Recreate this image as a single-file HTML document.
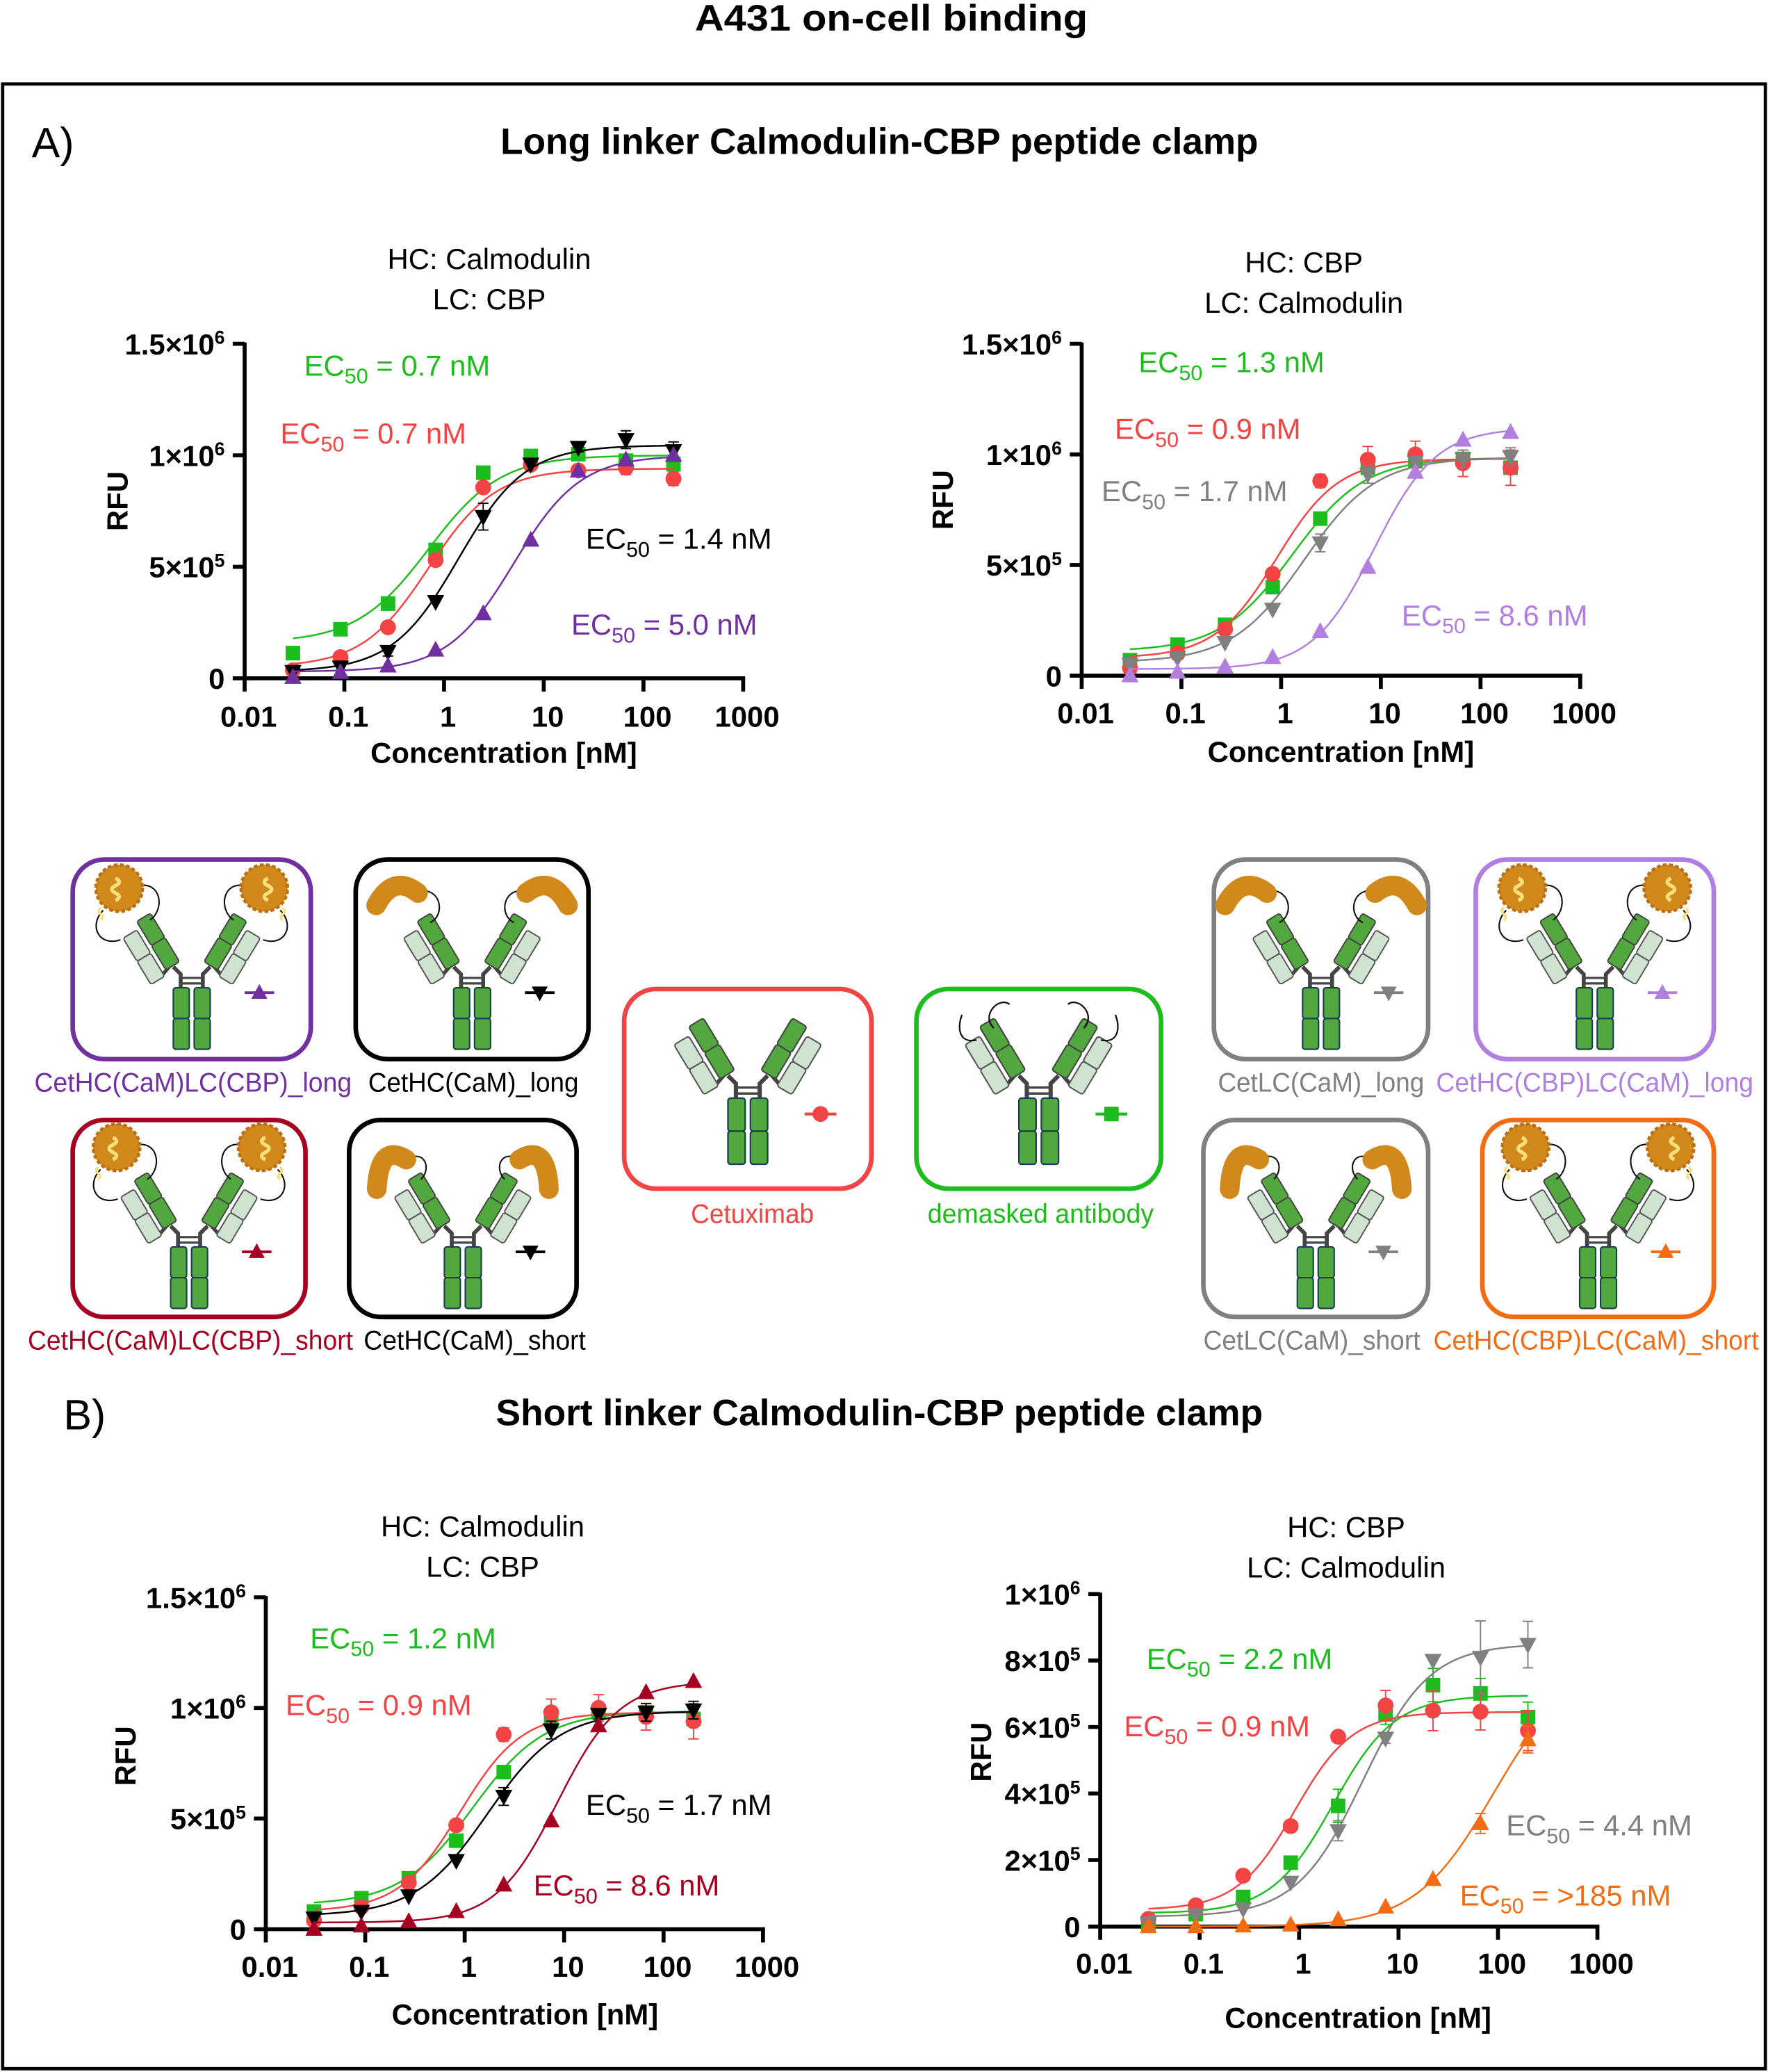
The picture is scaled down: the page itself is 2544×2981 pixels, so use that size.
<!DOCTYPE html>
<html><head><meta charset="utf-8"><title>A431 on-cell binding</title>
<style>html,body{margin:0;padding:0;background:#fff;overflow:hidden}svg{display:block}text{font-family:"Liberation Sans",Arial,sans-serif}</style>
</head><body>
<svg id="fig" xmlns="http://www.w3.org/2000/svg" width="2544" height="2981" viewBox="0 0 1337 1567" preserveAspectRatio="none">
<rect x="0" y="0" width="1337" height="1567" fill="#fff"/>
<text x="674" y="23" text-anchor="middle" font-size="28" font-weight="bold" textLength="297" lengthAdjust="spacingAndGlyphs">A431 on-cell binding</text>
<rect x="2" y="63.5" width="1333" height="1501" fill="none" stroke="#000" stroke-width="2.5"/>
<text x="24" y="119" font-size="32">A)</text>
<text x="665" y="116.5" text-anchor="middle" font-size="28" font-weight="bold" textLength="573" lengthAdjust="spacingAndGlyphs">Long linker Calmodulin-CBP peptide clamp</text>
<text x="48" y="1081" font-size="32">B)</text>
<text x="665" y="1078" text-anchor="middle" font-size="28" font-weight="bold" textLength="580" lengthAdjust="spacingAndGlyphs">Short linker Calmodulin-CBP peptide clamp</text>
</svg>
<script>
// ---------- data ----------
const conc = [0.0305, 0.0914, 0.274, 0.823, 2.47, 7.41, 22.2, 66.7, 200];
const xTickVals = [0.01, 0.1, 1, 10, 100, 1000];
const xTickLabels = ['0.01', '0.1', '1', '10', '100', '1000'];

// top-left (x1e6); series order: green, red, black, purple
const tlGreen = [0.113, 0.22, 0.335, 0.576, 0.922, 0.997, 1.005, 0.976, 0.96];
const tlRed = [0.036, 0.095, 0.229, 0.53, 0.856, 0.958, 0.932, 0.944, 0.895];
const tlBlack = [0.03, 0.05, 0.12, 0.344, 0.725, 0.96, 1.035, 1.07, 1.02];
const tlPurple = [0.005, 0.027, 0.056, 0.127, 0.29, 0.62, 0.93, 0.98, 1.0];
const tlBlackErr = [0, 0, 0.02, 0, 0.06, 0, 0.02, 0.04, 0.04];
const tlRedErr = [0, 0, 0, 0, 0, 0, 0.02, 0.03, 0.03];
const tlBottom = [0.16, 0.05, 0.03, 0.03];
const tlTop = [1.0, 0.94, 1.045, 1.0];
const tlEC50 = [0.7, 0.7, 1.4, 5.0];
const tlHill = [1.2, 1.3, 1.3, 1.3];
const tlYTicks = [0, 0.5, 1, 1.5];
const tlYLabels = ['0', '5×10^5', '1×10^6', '1.5×10^6'];

// top-right (x1e6); order: green, red, gray, lilac
const trGreen = [0.07, 0.14, 0.23, 0.40, 0.71, 0.94, 0.97, 0.98, 0.94];
const trRed = [0.035, 0.10, 0.21, 0.46, 0.88, 0.976, 1.0, 0.96, 0.94];
const trGray = [0.05, 0.08, 0.15, 0.30, 0.60, 0.91, 0.965, 0.98, 0.99];
const trLilac = [0, 0.016, 0.04, 0.083, 0.20, 0.49, 0.92, 1.065, 1.10];
const trRedErr = [0, 0, 0, 0, 0.03, 0.06, 0.06, 0.06, 0.08];
const trGrayErr = [0, 0, 0, 0, 0.04, 0.04, 0.02, 0.04, 0.04];
const trBottom = [0.11, 0.08, 0.06, 0.03];
const trTop = [0.985, 0.98, 0.985, 1.12];
const trEC50 = [1.3, 0.9, 1.7, 8.6];
const trHill = [1.2, 1.4, 1.2, 1.4];

// bottom-left (x1e6); order: green, red, black, darkred
const blGreen = [0.08, 0.14, 0.23, 0.40, 0.71, 0.95, 0.98, 0.98, 0.95];
const blRed = [0.04, 0.10, 0.21, 0.47, 0.88, 0.98, 1.0, 0.96, 0.94];
const blBlack = [0.05, 0.08, 0.15, 0.31, 0.60, 0.90, 0.97, 0.98, 0.99];
const blDarkRed = [0, 0.015, 0.035, 0.08, 0.20, 0.49, 0.92, 1.07, 1.12];
const blRedErr = [0, 0, 0, 0, 0.03, 0.06, 0.06, 0.06, 0.08];
const blBlackErr = [0, 0, 0, 0, 0.04, 0.04, 0.02, 0.04, 0.04];
const blBottom = [0.11, 0.08, 0.06, 0.03];
const blTop = [0.985, 0.98, 0.985, 1.12];
const blEC50 = [1.2, 0.9, 1.7, 8.6];
const blHill = [1.2, 1.4, 1.2, 1.4];

// bottom-right (x1e5); order: green, red, gray, orange
const brGreen = [0.1, 0.37, 0.89, 1.92, 3.63, 6.38, 7.26, 7.01, 6.3];
const brRed = [0.23, 0.64, 1.53, 3.02, 5.71, 6.65, 6.49, 6.46, 5.89];
const brGray = [0.1, 0.35, 0.53, 1.33, 2.88, 5.66, 8.0, 8.09, 8.48];
const brOrange = [0, 0, 0.02, 0.05, 0.21, 0.59, 1.42, 3.1, 5.62];
const brGreenErr = [0, 0, 0, 0, 0.5, 0.3, 0.5, 0.45, 0.45];
const brRedErr = [0, 0, 0, 0, 0, 0.45, 0.6, 0.55, 0.6];
const brGrayErr = [0, 0, 0, 0, 0.3, 0.15, 0.0, 1.1, 0.7];
const brOrangeErr = [0, 0, 0, 0, 0, 0, 0, 0.3, 0.4];
const brBottom = [0.4, 0.5, 0.3, 0];
const brTop = [6.95, 6.45, 8.5, 8];
const brEC50 = [2.2, 0.9, 4.4, 90];
const brHill = [1.4, 1.5, 1.3, 1.1];
const brYTicks = [0, 2, 4, 6, 8, 10];
const brYLabels = ['0', '2×10^5', '4×10^5', '6×10^5', '8×10^5', '1×10^6'];

// ---------- helpers ----------
const NS = 'http://www.w3.org/2000/svg';
const svg = document.getElementById('fig');
function el(tag, attrs, parent) {
  const e = document.createElementNS(NS, tag);
  for (const k in attrs) e.setAttribute(k, attrs[k]);
  (parent || svg).appendChild(e);
  return e;
}
const C = {green:'#1cbd1c', red:'#f24444', black:'#000', purple:'#7030a0', gray:'#808080', lilac:'#b07fe0', darkred:'#a50021', orange:'#f36c12'};

function marker(g, type, x, y, color, s) {
  s = s || 1;
  let m;
  if (type === 'square') m = el('rect', {x: x - 5.5*s, y: y - 5.5*s, width: 11*s, height: 11*s, fill: color}, g);
  else if (type === 'circle') m = el('circle', {cx: x, cy: y, r: 6*s, fill: color}, g);
  else if (type === 'up') m = el('polygon', {points: `${x},${y-7*s} ${x-6.5*s},${y+5*s} ${x+6.5*s},${y+5*s}`, fill: color}, g);
  else m = el('polygon', {points: `${x},${y+7*s} ${x-6.5*s},${y-5*s} ${x+6.5*s},${y-5*s}`, fill: color}, g);
  return m;
}
function richText(g, str, x, y, attrs) {
  const t = el('text', Object.assign({x: x, y: y}, attrs), g);
  const parts = str.split('^');
  t.appendChild(document.createTextNode(parts[0]));
  if (parts[1]) {
    const sp = el('tspan', {dy: -8, 'font-size': 14}, t);
    sp.textContent = parts[1];
  }
  return t;
}
function ecLabel(g, x, y, val, color) {
  const t = el('text', {x: x, y: y, 'font-size': 22, fill: color}, g);
  t.appendChild(document.createTextNode('EC'));
  const s = el('tspan', {dy: 6, 'font-size': 16}, t); s.textContent = '50';
  const r = el('tspan', {dy: -6}, t); r.textContent = ' = ' + val + ' nM';
  return t;
}
function fourPL(x, b, t, ec, h) { return b + (t - b) / (1 + Math.pow(ec / x, h)); }

function chart(cfg) {
  const g = el('g', {});
  
  
  const xs = v => cfg.x0 + (Math.log10(v) + 2) / 5 * (cfg.x1 - cfg.x0);
  const ys = v => cfg.y0 - v / cfg.ymax * (cfg.y0 - cfg.yt);
  const t1 = el('text', {x: cfg.tx, y: cfg.ty, 'text-anchor': 'middle', 'font-size': 22}, g);
  t1.textContent = cfg.title1;
  
  
  const t2 = el('text', {x: cfg.tx, y: cfg.ty + 30.5, 'text-anchor': 'middle', 'font-size': 22}, g);
  t2.textContent = cfg.title2;
  
  
  const ya = el('line', {x1: cfg.x0, y1: cfg.y0 + 1.5, x2: cfg.x0, y2: cfg.yt - 1, stroke: '#000', 'stroke-width': 3}, g);
  
  
  const xa = el('line', {x1: cfg.x0 - 1.5, y1: cfg.y0, x2: cfg.x1 + 1.5, y2: cfg.y0, stroke: '#000', 'stroke-width': 3}, g);
  
  
  cfg.yTicks.forEach((v, i) => {
    el('line', {x1: cfg.x0 - 9, y1: ys(v), x2: cfg.x0, y2: ys(v), stroke: '#000', 'stroke-width': 3}, g);
    const lt = richText(g, cfg.yLabels[i], cfg.x0 - 15, ys(v) + 8, {'font-size': 22, 'font-weight': 'bold', 'text-anchor': 'end'});
    
    
  });
  xTickVals.forEach((v, i) => {
    el('line', {x1: xs(v), y1: cfg.y0, x2: xs(v), y2: cfg.y0 + 10, stroke: '#000', 'stroke-width': 3}, g);
    const lt = el('text', {x: xs(v) + 3, y: cfg.xly, 'text-anchor': 'middle', 'font-size': 22, 'font-weight': 'bold'}, g);
    lt.textContent = xTickLabels[i];
    
    
  });
  const xt = el('text', {x: cfg.xtx, y: cfg.xty, 'text-anchor': 'middle', 'font-size': 22, 'font-weight': 'bold'}, g);
  xt.textContent = 'Concentration [nM]';
  
  
  const yt = el('text', {x: 0, y: 0, transform: `translate(${cfg.ylx},${cfg.yly}) rotate(-90)`, 'text-anchor': 'middle', 'font-size': 22, 'font-weight': 'bold', dy: 7.5}, g);
  yt.textContent = 'RFU';
  
  
  cfg.series.forEach((s, k) => {
    const sg = el('g', {}, g);
    
    
    let d = '';
    const la = Math.log10(conc[0]), lb = Math.log10(conc[conc.length - 1]);
    for (let i = 0; i <= 120; i++) {
      const x = Math.pow(10, la + (lb - la) * i / 120);
      const y = fourPL(x, cfg.bottom[k], cfg.top[k], cfg.ec50[k], cfg.hill[k]);
      d += (i ? 'L' : 'M') + xs(x).toFixed(2) + ',' + ys(y).toFixed(2);
    }
    const cp = el('path', {d: d, fill: 'none', stroke: s.color, 'stroke-width': 1.3}, sg);
    
    
    s.values.forEach((v, i) => {
      const e = s.err ? s.err[i] : 0;
      if (e > 0) {
        const x = xs(conc[i]);
        el('path', {d: `M${x},${ys(v - e)}V${ys(v + e)}M${x - 4},${ys(v + e)}H${x + 4}M${x - 4},${ys(v - e)}H${x + 4}`, stroke: s.color, 'stroke-width': 1, fill: 'none'}, sg);
      }
    });
    s.values.forEach((v, i) => {
      const m = marker(sg, s.marker, xs(conc[i]), ys(v), s.color);
      
      
    });
  });
  cfg.ec.forEach(e => {
    const t = ecLabel(g, e.x, e.y, e.val, e.color);
    
    
  });
}

chart({name: 'chart-long-hc-calmodulin', x0: 185, x1: 562, y0: 513, yt: 260, ymax: 1.5,
  title1: 'HC: Calmodulin', title2: 'LC: CBP', tx: 370, ty: 203.5, xly: 549.5, xtx: 381, xty: 577, ylx: 89, yly: 379,
  yTicks: tlYTicks, yLabels: tlYLabels, bottom: tlBottom, top: tlTop, ec50: tlEC50, hill: tlHill,
  series: [
    {name: 'green', values: tlGreen, color: C.green, marker: 'square'},
    {name: 'red', values: tlRed, err: tlRedErr, color: C.red, marker: 'circle'},
    {name: 'black', values: tlBlack, err: tlBlackErr, color: C.black, marker: 'down'},
    {name: 'purple', values: tlPurple, color: C.purple, marker: 'up'}],
  ec: [{x: 230, y: 284, val: '0.7', color: C.green}, {x: 212, y: 335.5, val: '0.7', color: C.red},
       {x: 443, y: 415, val: '1.4', color: C.black}, {x: 432, y: 480, val: '5.0', color: C.purple}]
});
chart({name: 'chart-long-hc-cbp', x0: 818, x1: 1195, y0: 511, yt: 260, ymax: 1.5,
  title1: 'HC: CBP', title2: 'LC: Calmodulin', tx: 986, ty: 206, xly: 547, xtx: 1014, xty: 576, ylx: 713, yly: 378,
  yTicks: tlYTicks, yLabels: tlYLabels, bottom: trBottom, top: trTop, ec50: trEC50, hill: trHill,
  series: [
    {name: 'green', values: trGreen, color: C.green, marker: 'square'},
    {name: 'red', values: trRed, err: trRedErr, color: C.red, marker: 'circle'},
    {name: 'gray', values: trGray, err: trGrayErr, color: C.gray, marker: 'down'},
    {name: 'lilac', values: trLilac, color: C.lilac, marker: 'up'}],
  ec: [{x: 861, y: 281.5, val: '1.3', color: C.green}, {x: 843, y: 332, val: '0.9', color: C.red},
       {x: 833, y: 379, val: '1.7', color: C.gray}, {x: 1060, y: 473, val: '8.6', color: C.lilac}]
});
chart({name: 'chart-short-hc-calmodulin', x0: 201, x1: 577, y0: 1459, yt: 1208, ymax: 1.5,
  title1: 'HC: Calmodulin', title2: 'LC: CBP', tx: 365, ty: 1162, xly: 1495, xtx: 397, xty: 1531, ylx: 95, yly: 1328,
  yTicks: tlYTicks, yLabels: tlYLabels, bottom: blBottom, top: blTop, ec50: blEC50, hill: blHill,
  series: [
    {name: 'green', values: blGreen, color: C.green, marker: 'square'},
    {name: 'red', values: blRed, err: blRedErr, color: C.red, marker: 'circle'},
    {name: 'black', values: blBlack, err: blBlackErr, color: C.black, marker: 'down'},
    {name: 'darkred', values: blDarkRed, color: C.darkred, marker: 'up'}],
  ec: [{x: 234.5, y: 1246.5, val: '1.2', color: C.green}, {x: 216, y: 1297, val: '0.9', color: C.red},
       {x: 443, y: 1372.5, val: '1.7', color: C.black}, {x: 403.5, y: 1433.5, val: '8.6', color: C.darkred}]
});
chart({name: 'chart-short-hc-cbp', x0: 832, x1: 1208, y0: 1457, yt: 1205.5, ymax: 10,
  title1: 'HC: CBP', title2: 'LC: Calmodulin', tx: 1018, ty: 1162.5, xly: 1492.5, xtx: 1027, xty: 1533.5, ylx: 742, yly: 1325,
  yTicks: brYTicks, yLabels: brYLabels, bottom: brBottom, top: brTop, ec50: brEC50, hill: brHill,
  series: [
    {name: 'green', values: brGreen, err: brGreenErr, color: C.green, marker: 'square'},
    {name: 'red', values: brRed, err: brRedErr, color: C.red, marker: 'circle'},
    {name: 'gray', values: brGray, err: brGrayErr, color: C.gray, marker: 'down'},
    {name: 'orange', values: brOrange, err: brOrangeErr, color: C.orange, marker: 'up'}],
  ec: [{x: 867, y: 1262, val: '2.2', color: C.green}, {x: 850, y: 1313, val: '0.9', color: C.red},
       {x: 1139, y: 1388, val: '4.4', color: C.gray}, {x: 1104, y: 1441, val: '>185', color: C.orange}]
});

// ---------- antibody icons ----------
const DG = '#52a83e', LG = '#cfe3d0';
function arm(g, mirror) {
  const a = el('g', {transform: (mirror ? 'scale(-1,1) ' : '') + 'translate(-15,-10) rotate(-31)'}, g);
  el('line', {x1: -14, y1: 2, x2: -2, y2: -2, stroke: '#444', 'stroke-width': 3}, a);
  el('rect', {x: -23, y: -41, width: 13, height: 22, rx: 2, fill: LG, stroke: '#555', 'stroke-width': 1.1}, a);
  el('rect', {x: -23, y: -19, width: 13, height: 22, rx: 2, fill: LG, stroke: '#555', 'stroke-width': 1.1}, a);
  el('rect', {x: -6.5, y: -47, width: 13, height: 23, rx: 2, fill: DG, stroke: '#444', 'stroke-width': 1.1}, a);
  el('rect', {x: -6.5, y: -24, width: 13, height: 23, rx: 2, fill: DG, stroke: '#444', 'stroke-width': 1.1}, a);
}
function antibody(cx, hy, s, mask, color, mtype, mx, my) {
  const g = el('g', {transform: `translate(${cx},${hy}) scale(${s})`});
  
  
  el('path', {d: 'M-9,8V-4L-15,-10M9,8V-4L15,-10', stroke: '#444', 'stroke-width': 3.2, fill: 'none'}, g);
  el('path', {d: 'M-9,-1H9M-9,3.5H9', stroke: '#444', 'stroke-width': 1.8}, g);
  [[-15, 7], [2, 7], [-15, 32], [2, 32]].forEach(p => el('rect', {x: p[0], y: p[1], width: 13, height: 25, rx: 2, fill: DG, stroke: '#173f52', 'stroke-width': 1.2}, g));
  arm(g, false); arm(g, true);
  [1, -1].forEach(sd => {
    const m = el('g', {transform: `scale(${sd},1)`}, g);
    if (mask === 'round') {
      el('path', {d: 'M-44,-76 C-24,-80 -22,-56 -34,-48', fill: 'none', stroke: '#111', 'stroke-width': 1.2}, m);
      el('path', {d: 'M-72,-56 C-84,-44 -76,-26 -58,-32', fill: 'none', stroke: '#111', 'stroke-width': 1.2}, m);
      el('circle', {cx: -59, cy: -74, r: 19, fill: '#d1891b', stroke: '#b96f12', 'stroke-width': 2.5, 'stroke-dasharray': '3 2'}, m);
      el('path', {d: 'M-62,-82 q6,3 0,6 q-6,3 0,6 q6,3 0,6', fill: 'none', stroke: '#f7df7a', 'stroke-width': 3}, m);
      el('path', {d: 'M-74,-58 q-3,3 0,5 q3,3 0,5', fill: 'none', stroke: '#f7df7a', 'stroke-width': 2}, m);
    } else if (mask === 'kidney') {
      el('path', {d: 'M-40,-72 C-25,-72 -22,-52 -34,-46', fill: 'none', stroke: '#111', 'stroke-width': 1.2}, m);
      el('path', {d: 'M-78,-60 Q-64,-86 -44,-70', fill: 'none', stroke: '#d1891b', 'stroke-width': 16, 'stroke-linecap': 'round'}, m);
    } else if (mask === 'kidneyShort') {
      el('path', {d: 'M-42,-66 C-30,-70 -26,-56 -34,-48', fill: 'none', stroke: '#111', 'stroke-width': 1.2}, m);
      el('path', {d: 'M-70,-40 Q-68,-78 -46,-64', fill: 'none', stroke: '#d1891b', 'stroke-width': 16, 'stroke-linecap': 'round'}, m);
    } else if (mask === 'linker') {
      el('path', {d: 'M-34,-46 C-44,-56 -30,-70 -22,-64', fill: 'none', stroke: '#111', 'stroke-width': 1.2}, m);
      el('path', {d: 'M-47,-37 C-60,-34 -62,-46 -58,-56', fill: 'none', stroke: '#111', 'stroke-width': 1.2}, m);
    }
  });
  const lg = el('g', {}, g);
  
  
  el('line', {x1: mx - 12, y1: my, x2: mx + 12, y2: my, stroke: color, 'stroke-width': 2.2}, lg);
  marker(lg, mtype, mx, my, color, 1);
}
function box(x1, y1, x2, y2, color, label, lx, ly, tl, mask, mtype, hyOff, s) {
  const r = el('rect', {x: x1, y: y1, width: x2 - x1, height: y2 - y1, rx: 24, fill: 'none', stroke: color, 'stroke-width': 3.5});
  
  
  const cx = (x1 + x2) / 2, hy = (y1 + y2) / 2 + hyOff;
  antibody(cx, hy, s, mask, color, mtype, 55, hyOff ? 11 : 19);
  const t = el('text', {x: lx, y: ly, 'text-anchor': 'middle', 'font-size': 20.5, fill: color, textLength: tl, lengthAdjust: 'spacingAndGlyphs'});
  t.textContent = label;
  
  
}
box(55, 650, 235, 801, C.purple, 'CetHC(CaM)LC(CBP)_long', 146, 825.5, 240, 'round', 'up', 15, 0.93);
box(269, 650, 445, 801, C.black, 'CetHC(CaM)_long', 358, 825.5, 159, 'kidney', 'down', 15, 0.93);
box(55, 847, 231, 996, C.darkred, 'CetHC(CaM)LC(CBP)_short', 144, 1020.5, 246, 'round', 'up', 15, 0.93);
box(264, 847, 436, 996, C.black, 'CetHC(CaM)_short', 359, 1020.5, 168, 'kidneyShort', 'down', 15, 0.93);
box(472, 748, 659, 899, C.red, 'Cetuximab', 569, 925, 93, null, 'circle', 0, 1);
box(693, 748, 878, 899, C.green, 'demasked antibody', 787, 925, 171, 'linker', 'square', 0, 1);
box(918, 650, 1080, 801, C.gray, 'CetLC(CaM)_long', 999, 825.5, 156, 'kidney', 'down', 15, 0.93);
box(1116, 650, 1296, 801, C.lilac, 'CetHC(CBP)LC(CaM)_long', 1206, 825.5, 240, 'round', 'up', 15, 0.93);
box(910, 847, 1080, 996, C.gray, 'CetLC(CaM)_short', 992, 1020.5, 164, 'kidneyShort', 'down', 15, 0.93);
box(1121, 847, 1296, 996, C.orange, 'CetHC(CBP)LC(CaM)_short', 1207, 1020.5, 246, 'round', 'up', 15, 0.93);
</script>
</body></html>
